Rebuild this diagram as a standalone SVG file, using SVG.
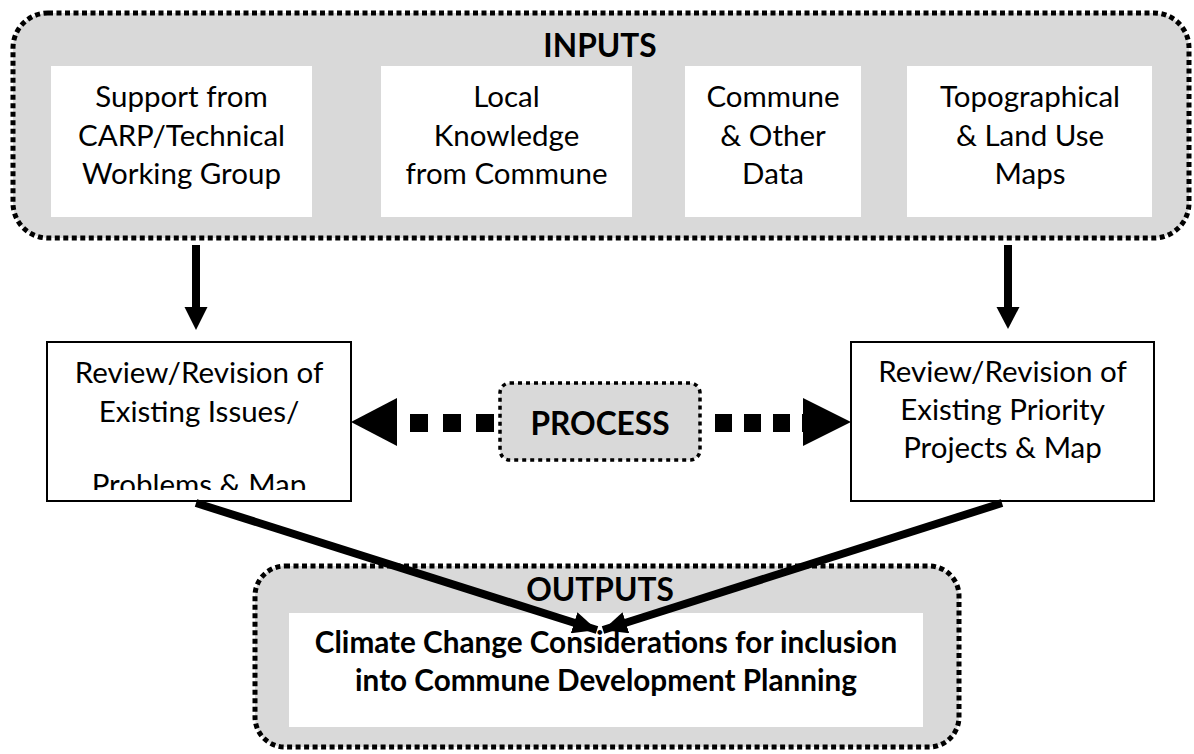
<svg xmlns="http://www.w3.org/2000/svg" width="1194" height="754" viewBox="0 0 1194 754">
  <style>
    .panel { fill: #D9D9D9; stroke: #000; stroke-width: 5; stroke-dasharray: 5 3.5; }
    .card { fill: #FFFFFF; stroke: none; }
    .step { fill: #FFFFFF; stroke: #000; stroke-width: 2; }
    .txt { font-family: Lato, "Open Sans", sans-serif; font-size: 29.5px; fill: #000; text-anchor: middle; }
    .head { font-family: Lato, "Open Sans", sans-serif; font-size: 31.7px; font-weight: bold; fill: #000; text-anchor: middle; }
    .out { font-family: Lato, "Open Sans", sans-serif; font-size: 29.7px; font-weight: bold; fill: #000; text-anchor: middle; }
    .shaft { stroke: #000; stroke-width: 8; fill: none; }
    .dots { stroke: #000; stroke-width: 18; fill: none; }
    .head-fill { fill: #000; stroke: none; }
  </style>
  <defs>
    <clipPath id="clipLeftStep">
      <rect x="47" y="342" width="304" height="148"/>
    </clipPath>
    <marker id="tipSmall" markerUnits="userSpaceOnUse" viewBox="0 0 24 22" refX="24" refY="11" markerWidth="24" markerHeight="22" orient="auto">
      <path d="M0,0 L24,11 L0,22 Z" fill="#000"/>
    </marker>
  </defs>

  <rect width="1194" height="754" fill="#FFFFFF"/>

  <!-- Inputs panel -->
  <g id="inputs">
    <rect class="panel" x="13" y="13" width="1176" height="225" rx="35" ry="35"/>
    <text class="head" x="600" y="57">INPUTS</text>
  </g>

  <g id="input-support">
    <rect class="card" x="51" y="66" width="261" height="151"/>
    <text class="txt" x="181.5" y="107">Support from</text>
    <text class="txt" x="181.5" y="146">CARP/Technical</text>
    <text class="txt" x="181.5" y="184">Working Group</text>
  </g>

  <g id="input-local">
    <rect class="card" x="381" y="66" width="251" height="151"/>
    <text class="txt" x="506.5" y="107">Local</text>
    <text class="txt" x="506.5" y="146">Knowledge</text>
    <text class="txt" x="506.5" y="184">from Commune</text>
  </g>

  <g id="input-data">
    <rect class="card" x="685" y="66" width="176" height="151"/>
    <text class="txt" x="773" y="107">Commune</text>
    <text class="txt" x="773" y="146">&amp; Other</text>
    <text class="txt" x="773" y="184">Data</text>
  </g>

  <g id="input-maps">
    <rect class="card" x="907" y="66" width="245" height="151"/>
    <text class="txt" x="1030" y="107">Topographical</text>
    <text class="txt" x="1030" y="146">&amp; Land Use</text>
    <text class="txt" x="1030" y="184">Maps</text>
  </g>

  <!-- Review steps -->
  <g id="review-issues">
    <rect class="step" x="47" y="342" width="304" height="159"/>
    <text class="txt" x="199" y="383">Review/Revision of</text>
    <text class="txt" x="199" y="422">Existing Issues/</text>
    <text class="txt" x="199" y="495" clip-path="url(#clipLeftStep)">Problems &amp; Map</text>
  </g>

  <g id="review-projects">
    <rect class="step" x="851" y="342" width="303" height="159"/>
    <text class="txt" x="1002.5" y="382">Review/Revision of</text>
    <text class="txt" x="1002.5" y="420">Existing Priority</text>
    <text class="txt" x="1002.5" y="458">Projects &amp; Map</text>
  </g>

  <!-- Outputs panel -->
  <g id="outputs">
    <rect class="panel" x="255" y="566" width="704" height="181" rx="30" ry="30"/>
    <rect class="card" x="289" y="613" width="634" height="114"/>
    <text class="head" x="600" y="601">OUTPUTS</text>
    <text class="out" x="606" y="653">Climate Change Considerations for inclusion</text>
    <text class="out" x="606" y="691">into Commune Development Planning</text>
  </g>

  <!-- Connectors -->
  <g id="connectors">
    <!-- inputs down to review steps -->
    <line class="shaft" x1="196" y1="245" x2="196" y2="308"/>
    <polygon class="head-fill" points="184.5,307 207.5,307 196,330"/>
    <line class="shaft" x1="1008" y1="245" x2="1008" y2="308"/>
    <polygon class="head-fill" points="996.5,307 1019.5,307 1008,329"/>

    <!-- process links, square-dotted -->
    <line class="dots" x1="500" y1="423" x2="389" y2="423" stroke-dasharray="18 15" stroke-dashoffset="-6"/>
    <polygon class="head-fill" points="397,398 397,446 351,422"/>
    <line class="dots" x1="715" y1="423" x2="803" y2="423" stroke-dasharray="17 12"/>
    <polygon class="head-fill" points="803,398 803,446 851,422"/>

    <!-- review steps down to outputs -->
    <line class="shaft" x1="196" y1="503" x2="597" y2="630" marker-end="url(#tipSmall)"/>
    <line class="shaft" x1="1002" y1="503" x2="603" y2="630" marker-end="url(#tipSmall)"/>
  </g>

  <!-- Process tag -->
  <g id="process">
    <rect x="500" y="383" width="200" height="77" rx="10" ry="10" fill="#D9D9D9" stroke="#000" stroke-width="3.5" stroke-dasharray="4 4"/>
    <text class="head" x="600" y="435">PROCESS</text>
  </g>
</svg>
